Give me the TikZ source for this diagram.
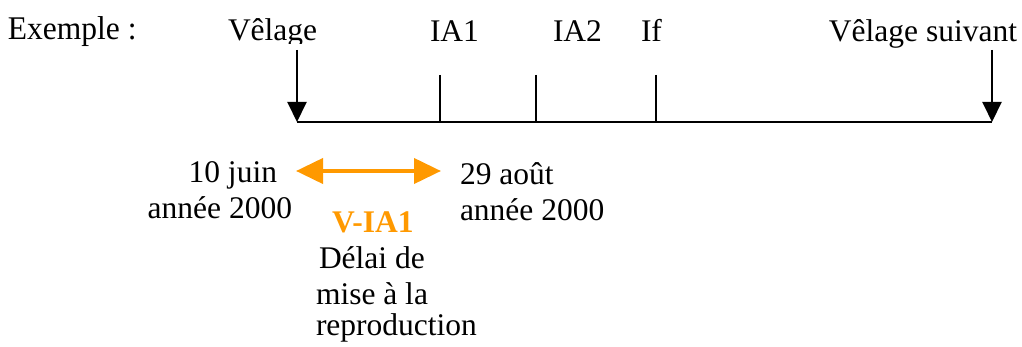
\documentclass[tikz,border=0pt]{standalone}
\usepackage{fontspec}
\setmainfont{Liberation Serif}
\usetikzlibrary{arrows.meta}
\definecolor{vorange}{HTML}{FF9900}
\tikzset{
  lbl/.style={inner sep=0pt, outer sep=0pt, font=\fontsize{31.5}{35}\selectfont},
  blackarrow/.style={line width=2pt, -{Triangle[length=20pt,width=19pt]}},
  tick/.style={line width=2pt},
  orangearrow/.style={draw=vorange, line width=4pt, {Triangle[length=27pt,width=25pt]}-{Triangle[length=27pt,width=25pt]}},
}
\begin{document}
\begin{tikzpicture}[x=1pt,y=-1pt]
\useasboundingbox (0,0) rectangle (1022,347);
% top labels
\node[lbl, anchor=base west, yscale=1.05] (ex) at (8,40) {Exemple :};
\begin{scope}
\clip (200,0) rectangle (330,44);
\node[lbl, anchor=base west] (v0) at (228,41) {Vêlage};
\end{scope}
\node[lbl, anchor=base west] (ia1) at (430,42) {IA1};
\node[lbl, anchor=base west] (ia2) at (553,42) {IA2};
\node[lbl, anchor=base west] (if) at (641,42) {If};
\node[lbl, anchor=base east] (vs) at (1017,42) {Vêlage suivant};
% timeline coordinates
\coordinate (t0) at (297,122);
\coordinate (t1) at (440,122);
\coordinate (t2) at (536,122);
\coordinate (t3) at (656,122);
\coordinate (t4) at (992,122);
\coordinate (a0) at (297,50);
\coordinate (a4) at (992,50);
\coordinate (k1) at (440,75);
\coordinate (k2) at (536,75);
\coordinate (k3) at (656,75);
\draw[tick] (t0) -- (t4);
\draw[blackarrow] (a0) -- (t0);
\draw[blackarrow] (a4) -- (t4);
\draw[tick] (k1) -- (t1);
\draw[tick] (k2) -- (t2);
\draw[tick] (k3) -- (t3);
% dates
\node[lbl, anchor=base east] (d0a) at (277,183) {10 juin};
\node[lbl, anchor=base east] (d0b) at (292,219) {année 2000};
\node[lbl, anchor=base west] (d1a) at (460,185) {29 août};
\node[lbl, anchor=base west] (d1b) at (460,221) {année 2000};
% orange interval
\coordinate (o0) at (296,171);
\coordinate (o1) at (441,171);
\draw[orangearrow] (o0) -- (o1);
\node[lbl, anchor=base west, text=vorange, font=\fontsize{31.5}{35}\selectfont\bfseries] (via1) at (332,233) {V-IA1};
\node[lbl, anchor=base west] (del1) at (319,269) {Délai de};
\node[lbl, anchor=base west] (del2) at (316,304) {mise à la};
\node[lbl, anchor=base west] (del3) at (316,335) {reproduction};
\end{tikzpicture}
\end{document}
